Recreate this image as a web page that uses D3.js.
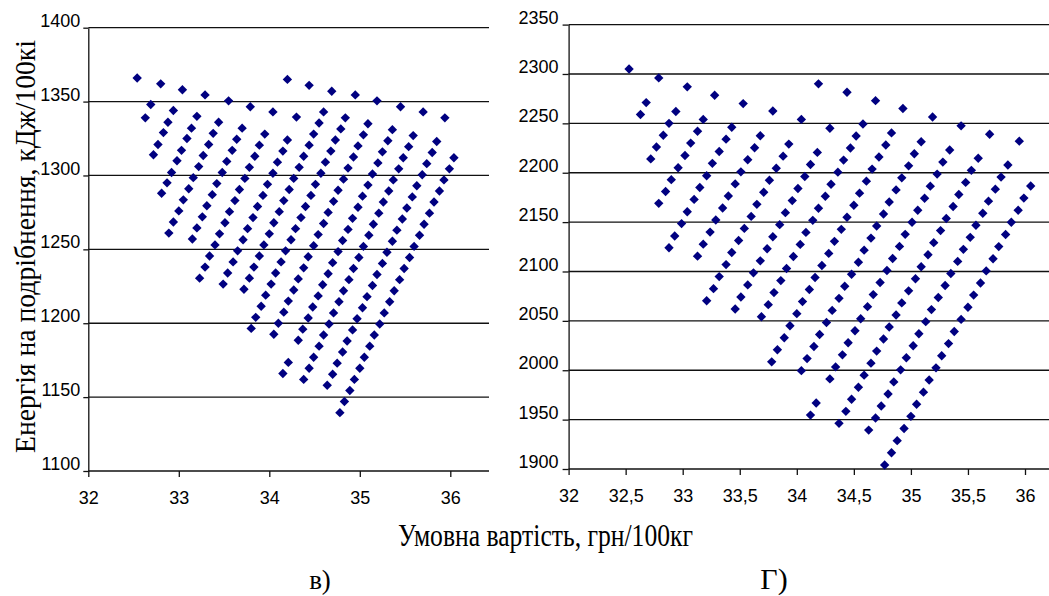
<!DOCTYPE html>
<html>
<head>
<meta charset="utf-8">
<script src="https://cdn.jsdelivr.net/npm/d3@7"></script>
<style>
  body { margin: 0; background: #fff; }
  text { fill: #000; }
</style>
</head>
<body>
<svg id="chart" width="1049" height="596"></svg>
<script>
// ---- panel в) : energy 1100..1400 ----
var leftXTicks = [32, 33, 34, 35, 36];
var leftXLabels = ["32", "33", "34", "35", "36"];
var leftYTicks = [1100, 1150, 1200, 1250, 1300, 1350, 1400];

// separate points along the top edge
var leftTopRow = [
  [32.54,1366],[32.80,1362],[33.04,1358],[33.29,1354.5],[33.55,1350.5],[33.79,1346.5],[34.04,1343],[34.30,1339.5],
  [34.20,1365],[34.44,1361],[34.69,1357],[34.95,1354.5],[35.19,1350.5],[35.45,1346.5],[35.70,1343],[35.94,1339]
];

// points read along each slanted row
var leftRows = [
  [[32.69,1348],[32.63,1339]],
  [[32.94,1344],[32.88,1336],[32.83,1329],[32.77,1321],[32.72,1314]],
  [[33.20,1340],[33.14,1332],[33.09,1325],[33.03,1317],[32.98,1310],[32.92,1302],[32.87,1295],[32.81,1288]],
  [[33.44,1336],[33.38,1328.5],[33.33,1321],[33.27,1313.5],[33.22,1306],[33.16,1298.5],[33.11,1291],[33.05,1283.5],[33.00,1276],[32.94,1268.5],[32.89,1261]],
  [[33.70,1332],[33.64,1324.5],[33.59,1317],[33.53,1309.5],[33.48,1302],[33.42,1294.5],[33.37,1287],[33.31,1279.5],[33.26,1272],[33.20,1264.5],[33.15,1257]],
  [[33.95,1328],[33.89,1320.5],[33.84,1313],[33.78,1305.5],[33.73,1298],[33.67,1290.5],[33.62,1283],[33.56,1275.5],[33.51,1268],[33.45,1260.5],[33.40,1253],[33.34,1245.5],[33.29,1238],[33.23,1230.5]],
  [[34.20,1324],[34.15,1316.5],[34.09,1309],[34.04,1301.5],[33.98,1294],[33.93,1286.5],[33.87,1279],[33.82,1271.5],[33.76,1264],[33.71,1256.5],[33.65,1249],[33.60,1241.5],[33.54,1234],[33.49,1226.5]],
  [[34.60,1343],[34.55,1335.5],[34.49,1328],[34.44,1320.5],[34.38,1313],[34.33,1305.5],[34.27,1298],[34.22,1290.5],[34.16,1283],[34.11,1275.5],[34.05,1268],[34.00,1260.5],[33.94,1253],[33.89,1245.5],[33.83,1238],[33.78,1230.5],[33.72,1223]],
  [[34.84,1339],[34.79,1331.5],[34.73,1324],[34.68,1316.5],[34.62,1309],[34.57,1301.5],[34.51,1294],[34.46,1286.5],[34.40,1279],[34.35,1271.5],[34.29,1264],[34.24,1256.5],[34.18,1249],[34.13,1241.5],[34.07,1234],[34.02,1226.5],[33.96,1219],[33.91,1211.5],[33.85,1204],[33.80,1196.5]],
  [[35.09,1335],[35.04,1327.5],[34.98,1320],[34.93,1312.5],[34.87,1305],[34.82,1297.5],[34.76,1290],[34.71,1282.5],[34.65,1275],[34.60,1267.5],[34.54,1260],[34.49,1252.5],[34.43,1245],[34.38,1237.5],[34.32,1230],[34.27,1222.5],[34.21,1215],[34.16,1207.5],[34.10,1200],[34.05,1192.5]],
  [[35.36,1331],[35.31,1323.5],[35.25,1316],[35.20,1308.5],[35.14,1301],[35.09,1293.5],[35.03,1286],[34.98,1278.5],[34.92,1271],[34.87,1263.5],[34.81,1256],[34.76,1248.5],[34.70,1241],[34.65,1233.5],[34.59,1226],[34.54,1218.5],[34.48,1211],[34.43,1203.5],[34.37,1196],[34.32,1188.5],[34.21,1173.5],[34.15,1166]],
  [[35.59,1327],[35.54,1319.5],[35.48,1312],[35.43,1304.5],[35.37,1297],[35.32,1289.5],[35.26,1282],[35.21,1274.5],[35.15,1267],[35.10,1259.5],[35.04,1252],[34.99,1244.5],[34.93,1237],[34.88,1229.5],[34.82,1222],[34.77,1214.5],[34.71,1207],[34.66,1199.5],[34.60,1192],[34.55,1184.5],[34.49,1177],[34.44,1169.5],[34.38,1162]],
  [[35.85,1323],[35.80,1315.5],[35.74,1308],[35.69,1300.5],[35.63,1293],[35.58,1285.5],[35.52,1278],[35.47,1270.5],[35.41,1263],[35.36,1255.5],[35.30,1248],[35.25,1240.5],[35.19,1233],[35.14,1225.5],[35.08,1218],[35.03,1210.5],[34.97,1203],[34.92,1195.5],[34.86,1188],[34.81,1180.5],[34.75,1173],[34.70,1165.5],[34.64,1158]],
  [[36.04,1312],[35.99,1304.5],[35.93,1297],[35.88,1289.5],[35.82,1282],[35.77,1274.5],[35.71,1267],[35.66,1259.5],[35.60,1252],[35.55,1244.5],[35.49,1237],[35.44,1229.5],[35.38,1222],[35.33,1214.5],[35.27,1207],[35.22,1199.5],[35.16,1192],[35.11,1184.5],[35.05,1177],[35.00,1169.5],[34.94,1162],[34.89,1154.5],[34.83,1147],[34.78,1139.5]]
];

// ---- panel г) : energy 1900..2350 ----
var rightXTicks = [32, 32.5, 33, 33.5, 34, 34.5, 35, 35.5, 36];
var rightXLabels = ["32", "32,5", "33", "33,5", "34", "34,5", "35", "35,5", "36"];
var rightYTicks = [1900, 1950, 2000, 2050, 2100, 2150, 2200, 2250, 2300, 2350];

var rightTopRow = [
  [32.53,2305],[32.79,2296],[33.04,2287],[33.28,2278.5],[33.53,2270],[33.79,2262.5],[34.04,2254],
  [34.19,2290],[34.44,2281.5],[34.69,2273],[34.93,2265],[35.19,2256.5],[35.44,2247.5],[35.69,2239],[35.95,2232]
];

var rightRows = [
  [[32.68,2271],[32.63,2259]],
  [[32.94,2262],[32.88,2250],[32.83,2238],[32.77,2226],[32.72,2214]],
  [[33.18,2254],[33.13,2242],[33.07,2230],[33.02,2217.5],[32.96,2205],[32.90,2193],[32.85,2181],[32.79,2169]],
  [[33.43,2246],[33.38,2234],[33.32,2221.5],[33.26,2209.5],[33.21,2197],[33.15,2185],[33.10,2173],[33.04,2160.5],[32.99,2148.5],[32.93,2136],[32.88,2124]],
  [[33.68,2237.5],[33.63,2225.3],[33.57,2213.1],[33.51,2200.9],[33.46,2188.7],[33.40,2176.5],[33.35,2164.3],[33.29,2152.1],[33.24,2139.9],[33.18,2127.7],[33.13,2115.5]],
  [[33.93,2229],[33.88,2216.8],[33.82,2204.6],[33.76,2192.4],[33.71,2180.2],[33.65,2168],[33.60,2155.8],[33.54,2143.6],[33.49,2131.4],[33.43,2119.2],[33.38,2107],[33.32,2094.8],[33.27,2082.6],[33.21,2070.4]],
  [[34.29,2245],[34.18,2220.6],[34.12,2208.4],[34.07,2196.2],[34.01,2184],[33.96,2171.8],[33.90,2159.6],[33.85,2147.4],[33.79,2135.2],[33.74,2123],[33.68,2110.8],[33.62,2098.6],[33.57,2086.4],[33.51,2074.2],[33.46,2062]],
  [[34.58,2249.4],[34.52,2237.2],[34.47,2225],[34.41,2212.8],[34.36,2200.6],[34.30,2188.4],[34.25,2176.2],[34.19,2164],[34.14,2151.8],[34.08,2139.6],[34.03,2127.4],[33.97,2115.2],[33.91,2103],[33.86,2090.8],[33.80,2078.6],[33.75,2066.4],[33.69,2054.2]],
  [[34.83,2240.3],[34.78,2228.1],[34.72,2215.9],[34.66,2203.7],[34.61,2191.5],[34.55,2179.3],[34.50,2167.1],[34.44,2154.9],[34.39,2142.7],[34.33,2130.5],[34.28,2118.3],[34.22,2106.1],[34.16,2093.9],[34.11,2081.7],[34.05,2069.5],[34.00,2057.3],[33.94,2045.1],[33.89,2032.9],[33.83,2020.7],[33.78,2008.5]],
  [[35.09,2231.4],[35.03,2219.2],[34.98,2207],[34.92,2194.8],[34.87,2182.6],[34.81,2170.4],[34.76,2158.2],[34.70,2146],[34.65,2133.8],[34.59,2121.6],[34.54,2109.4],[34.48,2097.2],[34.42,2085],[34.37,2072.8],[34.31,2060.6],[34.26,2048.4],[34.20,2036.2],[34.15,2024],[34.09,2011.8],[34.04,1999.6]],
  [[35.34,2223],[35.28,2210.8],[35.23,2198.6],[35.17,2186.4],[35.12,2174.2],[35.06,2162],[35.01,2149.8],[34.95,2137.6],[34.90,2125.4],[34.84,2113.2],[34.79,2101],[34.73,2088.8],[34.67,2076.6],[34.62,2064.4],[34.56,2052.2],[34.51,2040],[34.45,2027.8],[34.40,2015.6],[34.34,2003.4],[34.29,1991.2],[34.17,1966.8],[34.12,1954.6]],
  [[35.59,2214.6],[35.53,2202.4],[35.48,2190.2],[35.42,2178],[35.37,2165.8],[35.31,2153.6],[35.26,2141.4],[35.20,2129.2],[35.15,2117],[35.09,2104.8],[35.04,2092.6],[34.98,2080.4],[34.92,2068.2],[34.87,2056],[34.81,2043.8],[34.76,2031.6],[34.70,2019.4],[34.65,2007.2],[34.59,1995],[34.54,1982.8],[34.48,1970.6],[34.43,1958.4],[34.37,1946.2]],
  [[35.85,2207.8],[35.79,2195.6],[35.74,2183.4],[35.68,2171.2],[35.63,2159],[35.57,2146.8],[35.52,2134.6],[35.46,2122.4],[35.41,2110.2],[35.35,2098],[35.30,2085.8],[35.24,2073.6],[35.18,2061.4],[35.13,2049.2],[35.07,2037],[35.02,2024.8],[34.96,2012.6],[34.91,2000.4],[34.85,1988.2],[34.80,1976],[34.74,1963.8],[34.69,1951.6],[34.63,1939.4]],
  [[36.05,2186.6],[35.99,2174.3],[35.94,2162],[35.88,2149.8],[35.83,2137.5],[35.77,2125.2],[35.72,2112.9],[35.66,2100.6],[35.61,2088.4],[35.55,2076.1],[35.50,2063.8],[35.44,2051.5],[35.38,2039.2],[35.33,2027],[35.27,2014.7],[35.22,2002.4],[35.16,1990.1],[35.11,1977.8],[35.05,1965.6],[35.00,1953.3],[34.94,1941],[34.88,1928.7],[34.83,1916.4],[34.77,1904.1]]
];

var svg = d3.select("#chart");
var markColor = "#000080";
var tickFont = "'Liberation Sans', Arial, sans-serif";
var titleFont = "'Liberation Serif', 'Times New Roman', serif";

function drawPanel(p) {
  var x = d3.scaleLinear().domain([32, 36]).range(p.xRange);
  var y = d3.scaleLinear().domain([p.yTicks[0], p.yTicks[p.yTicks.length - 1]]).range(p.yRange);
  var g = svg.append("g");

  // horizontal grid lines
  g.selectAll(".grid")
    .data(p.yTicks.slice(1))
    .enter().append("line")
    .attr("class", "grid")
    .attr("x1", p.xRange[0]).attr("x2", p.right)
    .attr("y1", function(d) { return y(d); })
    .attr("y2", function(d) { return y(d); })
    .attr("stroke", "#111")
    .attr("stroke-width", 1.3);

  // x axis line across the whole plot
  g.append("line")
    .attr("x1", p.xRange[0]).attr("x2", p.right)
    .attr("y1", p.yRange[0]).attr("y2", p.yRange[0])
    .attr("stroke", "#111").attr("stroke-width", 1.3);

  var xAxis = g.append("g")
    .attr("transform", "translate(0," + p.yRange[0] + ")")
    .call(d3.axisBottom(x)
      .tickValues(p.xTicks)
      .tickFormat(function(d, i) { return p.xLabels[i]; })
      .tickSize(6).tickPadding(14).tickSizeOuter(0));
  xAxis.select(".domain").remove();

  var yAxis = g.append("g")
    .attr("transform", "translate(" + p.xRange[0] + ",0)")
    .call(d3.axisLeft(y)
      .tickValues(p.yTicks)
      .tickFormat(d3.format("d"))
      .tickSize(p.yTickSize).tickPadding(p.yPad).tickSizeOuter(0));
  yAxis.selectAll("text").attr("dy", "-0.08em");

  g.selectAll(".tick line").attr("stroke", "#111").attr("stroke-width", 1.3);
  g.selectAll(".domain").attr("stroke", "#111").attr("stroke-width", 1.3);
  g.selectAll(".tick text")
    .style("font-family", tickFont)
    .style("font-size", "18px")
    .attr("fill", "#111");

  var diamond = d3.symbol().type(d3.symbolSquare).size(44);
  var pts = p.topRow.concat(d3.merge(p.rows));
  g.selectAll(".pt")
    .data(pts)
    .enter().append("path")
    .attr("class", "pt")
    .attr("d", diamond)
    .attr("transform", function(d) {
      return "translate(" + x(d[0]) + "," + y(d[1]) + ") rotate(45)";
    })
    .attr("fill", markColor);
}

drawPanel({
  xTicks: leftXTicks, xLabels: leftXLabels, yTicks: leftYTicks,
  xRange: [88.3, 450.3], yRange: [471, 27.7], right: 489,
  yTickSize: 5, yPad: 3,
  topRow: leftTopRow, rows: leftRows
});

drawPanel({
  xTicks: rightXTicks, xLabels: rightXLabels, yTicks: rightYTicks,
  xRange: [568.6, 1025], yRange: [469, 24.6], right: 1049,
  yTickSize: 6, yPad: 4,
  topRow: rightTopRow, rows: rightRows
});

// titles
svg.append("text")
  .attr("transform", "translate(35,246.5) rotate(-90)")
  .attr("text-anchor", "middle")
  .attr("textLength", 413)
  .attr("lengthAdjust", "spacingAndGlyphs")
  .style("font-family", titleFont)
  .style("font-size", "29px")
  .text("Енергія на подрібнення, кДж/100кі");

svg.append("text")
  .attr("x", 545.5).attr("y", 546)
  .attr("text-anchor", "middle")
  .attr("textLength", 295)
  .attr("lengthAdjust", "spacingAndGlyphs")
  .style("font-family", titleFont)
  .style("font-size", "31px")
  .text("Умовна вартість, грн/100кг");

svg.append("text")
  .attr("x", 320).attr("y", 589)
  .attr("text-anchor", "middle")
  .style("font-family", titleFont)
  .style("font-size", "27px")
  .text("в)");

svg.append("text")
  .attr("x", 774).attr("y", 589)
  .attr("text-anchor", "middle")
  .style("font-family", titleFont)
  .style("font-size", "30px")
  .text("Г)");
</script>
</body>
</html>
